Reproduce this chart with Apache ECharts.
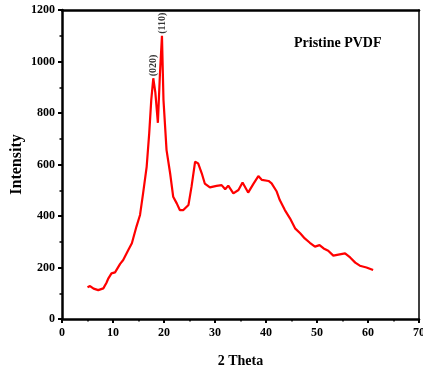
<!DOCTYPE html>
<html>
<head>
<meta charset="utf-8">
<script src="https://cdn.jsdelivr.net/npm/echarts@6/dist/echarts.min.js"></script>
<style>html,body{margin:0;padding:0;background:#fff}#c{width:423px;height:371px}</style>
</head>
<body>
<div id="c"></div>
<script>
var thetaValues = [5.0,5.5,6.2,7.1,8.1,8.7,9.1,9.7,10.4,11.4,12.0,13.0,13.7,14.6,15.3,15.9,16.6,17.1,17.5,17.9,18.3,18.8,19.2,19.6,19.9,20.5,21.2,21.8,22.5,23.1,23.8,24.8,25.4,26.1,26.7,27.4,28.0,29.0,30.3,31.3,32.0,32.6,33.6,34.6,35.4,36.5,37.5,38.5,39.2,40.5,41.1,42.1,42.7,43.7,44.7,45.7,46.7,47.6,48.6,49.6,50.5,51.3,52.2,53.2,54.2,55.5,56.5,57.5,58.4,59.7,61.0];
var intensityValues = [123,128,118,112,119,140,158,177,181,214,229,268,294,359,404,488,591,721,850,935,880,762,950,1100,850,656,566,475,449,423,423,443,514,611,604,566,526,511,517,520,504,518,488,501,530,491,524,555,540,536,527,495,462,423,391,352,333,313,296,281,287,274,265,246,250,255,239,219,207,200,190];
var peakTheta = [17.9, 19.6];
var peakIntensity = [935, 1100];
var peakNames = ['(020)', '(110)'];
var xTicks = [0,10,20,30,40,50,60,70];
var yTicks = [0,200,400,600,800,1000,1200];
var titleText = 'Pristine PVDF';
var xName = '2 Theta';
var yName = 'Intensity';

var font = 'Liberation Serif';
var lineData = thetaValues.map(function (x, i) { return [x, intensityValues[i]]; });
var peakData = peakTheta.map(function (x, i) { return { value: [x, peakIntensity[i]], name: peakNames[i] }; });

var axisLabelStyle = { fontFamily: font, fontWeight: 'bold', fontSize: 12, color: '#000', formatter: function (v) { return String(v); } };
var chart = echarts.init(document.getElementById('c'), null, { renderer: 'canvas' });
chart.setOption({
  animation: false,
  backgroundColor: '#fff',
  title: { text: titleText, left: 289, top: 31, textStyle: { fontFamily: font, fontWeight: 'bold', fontSize: 14, color: '#000' } },
  grid: { left: 62, right: 4, top: 10, bottom: 52, containLabel: false, outerBoundsMode: 'none' },
  xAxis: [{
    type: 'value', min: xTicks[0], max: xTicks[xTicks.length - 1], interval: 10,
    name: xName, nameLocation: 'middle', nameGap: 35, nameMoveOverlap: false,
    nameTextStyle: { fontFamily: font, fontWeight: 'bold', fontSize: 14, color: '#000' },
    axisLine: { show: true, onZero: false, lineStyle: { color: '#000', width: 2.5 } },
    axisTick: { show: true, inside: false, length: 4, lineStyle: { color: '#000', width: 2 } },
    minorTick: { show: true, splitNumber: 2, length: 2.5, lineStyle: { color: '#000', width: 1.5 } },
    axisLabel: Object.assign({ margin: 8 }, axisLabelStyle),
    splitLine: { show: false }
  }, {
    type: 'value', position: 'top', min: 0, max: 70,
    axisLine: { show: true, onZero: false, lineStyle: { color: '#000', width: 2.5 } },
    axisTick: { show: false }, axisLabel: { show: false }, splitLine: { show: false }
  }],
  yAxis: [{
    type: 'value', min: yTicks[0], max: yTicks[yTicks.length - 1], interval: 200,
    name: yName, nameLocation: 'middle', nameGap: 37, nameMoveOverlap: false,
    nameTextStyle: { fontFamily: font, fontWeight: 'bold', fontSize: 16, color: '#000' },
    axisLine: { show: true, onZero: false, lineStyle: { color: '#000', width: 2.5 } },
    axisTick: { show: true, inside: false, length: 4, lineStyle: { color: '#000', width: 2 } },
    minorTick: { show: true, splitNumber: 2, length: 2.5, lineStyle: { color: '#000', width: 1.5 } },
    axisLabel: Object.assign({ margin: 7 }, axisLabelStyle),
    splitLine: { show: false }
  }, {
    type: 'value', position: 'right', min: 0, max: 1200,
    axisLine: { show: true, onZero: false, lineStyle: { color: '#000', width: 1.5 } },
    axisTick: { show: false }, axisLabel: { show: false }, splitLine: { show: false }
  }],
  series: [{
    type: 'line', data: lineData, xAxisIndex: 0, yAxisIndex: 0,
    showSymbol: false, symbol: 'none', smooth: false,
    lineStyle: { color: '#ff0000', width: 2.2 }
  }, {
    type: 'scatter', data: peakData, xAxisIndex: 0, yAxisIndex: 0,
    symbolSize: 0, silent: true, z: 10,
    label: { show: true, formatter: '{b}', position: 'top', rotate: 90, distance: 2,
      align: 'left', verticalAlign: 'middle',
      fontFamily: font, fontWeight: 'bold', fontSize: 10, color: '#000' },
    labelLayout: { hideOverlap: false }
  }]
});
</script>
</body>
</html>
